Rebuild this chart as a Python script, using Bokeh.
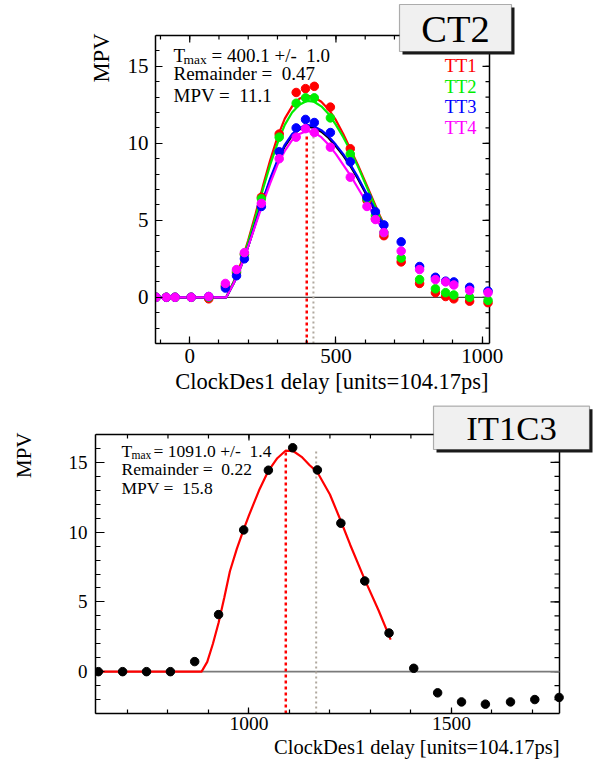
import math
from bokeh.plotting import figure
from bokeh.models import (Range1d, FixedTicker, LinearAxis, Label, BoxAnnotation)
from bokeh.embed import file_html
from bokeh.resources import INLINE

FONT = "Liberation Serif"

# ---------------- CT2 data ----------------
ct2_delay = [-115, -80, -50, 5, 65, 122, 160, 187, 245, 306, 364, 396, 426, 481,
             549, 606, 635, 664, 723, 786, 840, 875, 903, 957, 1020]
ct2_tt1 = [0, 0, 0, 0, -0.1, 0.7, 1.6, 2.8, 6.5, 10.6, 13.3, 13.55, 13.7, 12.35,
           9.65, 6.3, 5.1, 4.0, 2.3, 0.9, 0.3, 0.05, -0.1, -0.25, -0.35]
ct2_tt2 = [0, 0, 0, 0, 0, 0.75, 1.7, 2.8, 6.4, 10.4, 12.6, 12.95, 12.95, 11.65,
           9.3, 6.4, 5.3, 4.2, 2.55, 1.15, 0.55, 0.3, 0.15, 0.0, -0.2]
ct2_tt3 = [0, 0, 0, 0, 0.05, 0.6, 1.4, 2.5, 5.9, 9.45, 11.0, 11.55, 11.35, 10.7,
           8.8, 6.5, 5.55, 4.7, 3.6, 2.0, 1.3, 1.05, 1.0, 0.65, 0.4]
ct2_tt4 = [0, 0, 0, 0, 0.05, 0.9, 1.8, 2.9, 6.1, 9.0, 10.4, 10.95, 10.7, 9.75,
           7.8, 5.9, 5.05, 4.2, 3.0, 1.8, 1.15, 1.0, 0.8, 0.45, 0.3]

ct2_fit_x = [-115, 125, 150, 175, 200, 225, 250, 275, 300, 325, 350, 375, 400,
             425, 450, 475, 500, 525, 550, 575, 600, 625, 650, 670]
ct2_fit_tt1 = [0, 0, 1.0, 2.2, 3.7, 5.4, 7.2, 8.9, 10.4, 11.6, 12.4, 12.9, 13.1,
               13.0, 12.7, 12.2, 11.5, 10.6, 9.6, 8.6, 7.5, 6.4, 5.3, 4.5]
ct2_fit_tt2 = [0, 0, 1.0, 2.1, 3.6, 5.2, 7.0, 8.6, 10.0, 11.2, 12.0, 12.5, 12.75,
               12.7, 12.4, 11.9, 11.2, 10.4, 9.5, 8.5, 7.4, 6.3, 5.2, 4.5]
ct2_fit_all = [0, 0, 0.9, 2.0, 3.3, 4.8, 6.3, 7.6, 8.8, 9.8, 10.5, 10.9, 11.1,
               11.0, 10.75, 10.35, 9.8, 9.2, 8.5, 7.7, 6.8, 5.9, 5.0, 4.4]
ct2_fit_tt3 = [0, 0, 0.9, 2.0, 3.3, 4.8, 6.3, 7.7, 8.9, 9.9, 10.6, 11.0, 11.2,
               11.1, 10.85, 10.45, 9.9, 9.3, 8.6, 7.8, 6.9, 6.0, 5.1, 4.5]
ct2_fit_tt4 = [0, 0, 0.9, 2.0, 3.3, 4.7, 6.1, 7.4, 8.6, 9.5, 10.2, 10.6, 10.8,
               10.7, 10.4, 9.9, 9.3, 8.6, 7.9, 7.1, 6.3, 5.5, 4.7, 4.1]

ct2_tmax = 400.1
ct2_ref = 423
ct2_line_top = 10.5
ct2_labels = ["TT1", "TT2", "TT3", "TT4"]
ct2_xrange = (-117, 1025)
ct2_xmajor = [0, 500, 1000]
ct2_xminor = [-100, 0, 100, 200, 300, 400, 500, 600, 700, 800, 900, 1000]

# ---------------- IT1C3 data ----------------
it_delay = [628, 688, 747, 806, 866, 925, 987, 1048, 1108, 1169, 1227, 1286,
            1346, 1407, 1466, 1525, 1584, 1646, 1706, 1766]
it_mpv = [0, 0, 0, 0, 0.72, 4.09, 10.16, 14.44, 16.05, 14.46, 10.64, 6.5,
          2.77, 0.24, -1.52, -2.17, -2.33, -2.17, -2.0, -1.85]
it_fit_x = [628, 700, 800, 883, 897, 911, 925, 939, 953, 970, 987, 1000, 1025,
            1048, 1070, 1091, 1110, 1130, 1150, 1169, 1200, 1227, 1250, 1286,
            1320, 1350]
it_fit_y = [0, 0, 0, 0, 0.7, 2.0, 3.5, 5.3, 7.2, 8.8, 10.2, 11.2, 13.0, 14.4,
            15.3, 15.85, 15.8, 15.4, 14.8, 14.3, 12.7, 10.8, 9.1, 6.6, 4.4, 2.3]
it_tmax = 1091.0
it_ref = 1166
it_line_top = 15.9
it_xrange = (621, 1767)
it_xmajor = [1000, 1500]
it_xminor = [700, 800, 900, 1000, 1100, 1200, 1300, 1400, 1500, 1600, 1700]

mpv_range = (-3, 17)
mpv_major = [0, 5, 10, 15]
mpv_minor = list(range(-3, 18))

COLORS = ["#ff0000", "#00ee00", "#0000ff", "#ff00ff"]
NB = "\u00a0"
W = 594
H1, H2 = 395, 366
BASE_SHIFT = 0.35   # bokeh label baseline correction (fraction of font size)


def make_panel(h, frame, outer, xr, yr):
    """frame = ROOT frame (l, r, t, b) canvas px; outer = bokeh frame right/top px."""
    l, r, t, b = frame
    orr, ot = outer
    sx = (r - l) / (xr[1] - xr[0])
    sy = (b - t) / (yr[1] - yr[0])
    x_end = xr[1] + (orr - r) / sx
    y_end = yr[1] + (t - ot) / sy
    p = figure(width=W, height=h, x_range=Range1d(xr[0], x_end),
               y_range=Range1d(yr[0], y_end),
               output_backend="svg", toolbar_location=None,
               min_border_left=l, min_border_right=W - orr,
               min_border_top=ot, min_border_bottom=h - b,
               x_axis_type=None, y_axis_type=None)
    p.outline_line_color = None
    p.background_fill_color = "white"
    p.border_fill_color = "white"
    return p


def style_axis(ax, maj, mnr, fsize, standoff, bounds):
    ax.bounds = bounds
    ax.axis_line_color = "black"
    ax.axis_line_width = 1.5
    ax.major_tick_in = maj
    ax.major_tick_out = 0
    ax.minor_tick_in = mnr
    ax.minor_tick_out = 0
    ax.major_tick_line_color = "black"
    ax.minor_tick_line_color = "black"
    ax.major_tick_line_width = 1.2
    ax.minor_tick_line_width = 1.2
    ax.major_label_text_font = FONT
    ax.major_label_text_color = "black"
    ax.major_label_text_font_size = fsize
    ax.major_label_standoff = standoff


def root_axes(p, xr, yr, xmaj, xmin, ymaj, ymin, xticks, yticks, xfs, yfs, xso, yso):
    ax = LinearAxis(ticker=FixedTicker(ticks=xticks[0], minor_ticks=xticks[1]))
    style_axis(ax, xmaj, xmin, xfs, xso, xr)
    p.add_layout(ax, "below")
    ay = LinearAxis(ticker=FixedTicker(ticks=yticks[0], minor_ticks=yticks[1]))
    style_axis(ay, ymaj, ymin, yfs, yso, yr)
    p.add_layout(ay, "left")
    # top and right edges of the ROOT frame, with inward ticks
    p.line([xr[0], xr[1], xr[1]], [yr[1], yr[1], yr[0]], line_color="black",
           line_width=1.5)
    p.ray(x=[xr[1]] * len(yticks[0]), y=yticks[0], length=ymaj, length_units="screen",
          angle=math.pi, line_color="black", line_width=1.2)
    p.ray(x=[xr[1]] * len(yticks[1]), y=yticks[1], length=ymin, length_units="screen",
          angle=math.pi, line_color="black", line_width=1.2)
    p.ray(x=xticks[0], y=[yr[1]] * len(xticks[0]), length=xmaj, length_units="screen",
          angle=-math.pi / 2, line_color="black", line_width=1.2)
    p.ray(x=xticks[1], y=[yr[1]] * len(xticks[1]), length=xmin, length_units="screen",
          angle=-math.pi / 2, line_color="black", line_width=1.2)


def lab(p, L, B, px, py, text, size, color="black", align="left"):
    """Label inside the bokeh frame; px = canvas x, py = canvas baseline y."""
    py = py - BASE_SHIFT * size
    p.add_layout(Label(x=px - L, y=B - py, x_units="screen", y_units="screen",
                       text=text, text_font=FONT, text_font_size=f"{size}px",
                       text_color=color, text_align=align,
                       text_baseline="alphabetic"))


def side_lab(p, side, x, y, text, size, align="left", baseline="alphabetic",
             angle=0.0):
    p.add_layout(Label(x=x, y=y, x_units="screen", y_units="screen",
                       text=text, text_font=FONT, text_font_size=f"{size}px",
                       text_align=align, text_baseline=baseline, angle=angle,
                       text_color="black"), side)


def sbox(p, L, B, x0, y0, x1, y1, fill, line):
    p.add_layout(BoxAnnotation(left=x0 - L, right=x1 - L, top=B - y0, bottom=B - y1,
                               left_units="screen", right_units="screen",
                               top_units="screen", bottom_units="screen",
                               fill_color=fill, fill_alpha=1.0,
                               line_color=line, line_width=1.2))


def pave(p, L, B, box, tx, ty, text, size):
    x0, y0, x1, y1 = box
    sbox(p, L, B, x0 + 3, y0 + 3, x1 + 3, y1 + 3, "#1a1a1a", None)
    sbox(p, L, B, x0, y0, x1, y1, "#f0f0f0", "black")
    lab(p, L, B, tx, ty, text, size, align="center")


# ================= top figure (CT2) =================
F1 = (155, 489, 35, 343)
p1 = make_panel(H1, F1, (516, 2), ct2_xrange, mpv_range)
root_axes(p1, ct2_xrange, mpv_range, 7, 4, 7, 4, (ct2_xmajor, ct2_xminor),
          (mpv_major, mpv_minor), "21px", "21px", 5, 7)
L1, B1 = F1[0], F1[3]

p1.segment(x0=[ct2_xrange[0]], y0=[0], x1=[ct2_xrange[1]], y1=[0],
           line_color="#444444", line_width=1.3)
p1.segment(x0=[ct2_tmax], y0=[mpv_range[0]], x1=[ct2_tmax], y1=[ct2_line_top],
           line_color="#ff0000", line_width=2.5, line_dash="3 3")
p1.segment(x0=[ct2_ref], y0=[mpv_range[0]], x1=[ct2_ref], y1=[ct2_line_top],
           line_color="#b0a89e", line_width=2, line_dash="2 3")

fits = [ct2_fit_tt1, ct2_fit_tt2, ct2_fit_all, ct2_fit_tt3, ct2_fit_tt4]
fcols = [COLORS[0], COLORS[1], "#000000", COLORS[2], COLORS[3]]
for fy, c in zip(fits, fcols):
    p1.line(ct2_fit_x, fy, line_color=c, line_width=2.2)
for ys, c in zip([ct2_tt1, ct2_tt2, ct2_tt3, ct2_tt4], COLORS):
    p1.scatter(ct2_delay, ys, size=8.5, fill_color=c, line_color=c)

lab(p1, L1, B1, 173, 61.5, "T", 19)
lab(p1, L1, B1, 183, 64, "max", 13.5)
lab(p1, L1, B1, 211, 61.5, "= 400.1 +/- " + NB + "1.0", 19)
lab(p1, L1, B1, 173, 80, "Remainder = " + NB + "0.47", 19)
lab(p1, L1, B1, 173, 101.5, "MPV = " + NB + "11.1", 19)
for t, c, yb in zip(ct2_labels, COLORS, [71.7, 92.7, 112.9, 134]):
    lab(p1, L1, B1, 476, yb, t, 18.5, color=c, align="right")
pave(p1, L1, B1, (399, 4, 511, 51), 455, 41.7, "CT2", 38.5)

side_lab(p1, "left", 1.5, B1 - 33, "MPV", 22.6, align="right", baseline="middle",
         angle=math.pi / 2)
side_lab(p1, "below", 488 - L1, 9, "ClockDes1 delay [units=104.17ps]", 22.5,
         align="right")

# ================= bottom figure (IT1C3) =================
# canvas y of this figure = page y - H1
F2 = (95, 559, 434 - H1, 713 - H1)
p2 = make_panel(H2, F2, (594, 8), it_xrange, mpv_range)
root_axes(p2, it_xrange, mpv_range, 6, 4, 9, 5, (it_xmajor, it_xminor),
          (mpv_major, mpv_minor), "19.5px", "19px", 3, 8)
L2, B2 = F2[0], F2[3]

p2.segment(x0=[it_xrange[0]], y0=[0], x1=[it_xrange[1]], y1=[0],
           line_color="#7a7a7a", line_width=1.6)
p2.segment(x0=[it_tmax], y0=[mpv_range[0]], x1=[it_tmax], y1=[it_line_top],
           line_color="#ff0000", line_width=2.5, line_dash="3 3")
p2.segment(x0=[it_ref], y0=[mpv_range[0]], x1=[it_ref], y1=[it_line_top],
           line_color="#b0a89e", line_width=2, line_dash="2 3")
p2.line(it_fit_x, it_fit_y, line_color="#ff0000", line_width=2.2)
p2.scatter(it_delay, it_mpv, size=8.5, fill_color="black", line_color="black")

lab(p2, L2, B2, 121, 456.7 - H1, "T", 17.5)
lab(p2, L2, B2, 131, 459 - H1, "max", 11.5)
lab(p2, L2, B2, 153, 456.7 - H1, "= 1091.0 +/- " + NB + "1.4", 17.5)
lab(p2, L2, B2, 121, 475 - H1, "Remainder = " + NB + "0.22", 17.5)
lab(p2, L2, B2, 121, 494 - H1, "MPV = " + NB + "15.8", 17.5)
pave(p2, L2, B2, (433, 405.7 - H1, 589, 449 - H1), 511, 440 - H1, "IT1C3", 34.7)

side_lab(p2, "left", -17.5, B2 - (432 - H1), "MPV", 21, align="right",
         baseline="middle", angle=math.pi / 2)
side_lab(p2, "below", 559 - L2, 8, "ClockDes1 delay [units=104.17ps]", 20.5,
         align="right")

open("out.html", "w").write(file_html([p1, p2], INLINE))
